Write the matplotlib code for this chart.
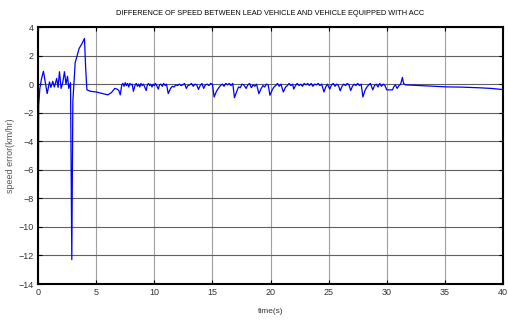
import matplotlib.pyplot as plt
import numpy as np

plt.rcParams['font.family'] = ['Liberation Sans', 'DejaVu Sans']

# time (s) and speed error (km/hr)
t_start = [0.0, 0.05, 0.15, 0.3, 0.46, 0.62, 0.78, 0.98, 1.1, 1.26, 1.4, 1.6, 1.72,
           1.84, 1.98, 2.12, 2.27, 2.4, 2.53, 2.64, 2.79, 2.9, 2.99, 3.19, 3.36,
           3.53, 3.75, 3.99, 4.1, 4.2, 4.5, 5.0, 5.5, 6.0, 6.3, 6.6, 6.8, 6.95,
           7.07]
e_start = [-14.0, -1.5, -0.3, 0.4, 0.9, 0.1, -0.66, 0.16, -0.23, 0.2, -0.2, 0.4,
           -0.23, 0.87, -0.3, 0.1, 0.87, 0.0, 0.55, -0.3, 0.1, -12.3, -1.2, 1.5,
           2.0, 2.5, 2.8, 3.2, 1.0, -0.4, -0.5, -0.55, -0.65, -0.75, -0.6, -0.3,
           -0.35, -0.45, -0.75]

t_mid = [7.2, 7.3, 7.4, 7.5, 7.6, 7.7, 7.8, 7.9, 8.0, 8.1, 8.2, 8.35, 8.45, 8.55,
         8.65, 8.75, 8.85, 8.95, 9.05, 9.15, 9.3, 9.4, 9.5, 9.6, 9.7, 9.8, 9.9,
         10.0, 10.1, 10.2, 10.35, 10.45, 10.55, 10.7, 10.8, 10.95, 11.05, 11.2,
         11.4, 11.55, 11.7, 11.85, 12.0, 12.15, 12.3, 12.45, 12.6, 12.75, 12.9,
         13.05, 13.2, 13.35, 13.5, 13.65, 13.8, 13.95, 14.1, 14.25, 14.4, 14.55,
         14.7, 14.85, 15.0, 15.15, 15.35, 15.55, 15.7, 15.85, 16.0, 16.15, 16.3,
         16.45, 16.6, 16.75, 16.9, 17.1, 17.25, 17.4, 17.55, 17.7, 17.9, 18.05,
         18.2, 18.35, 18.5, 18.65, 18.8, 19.0, 19.2, 19.35, 19.5, 19.65, 19.8,
         19.95, 20.15, 20.3, 20.45, 20.6, 20.75, 20.9, 21.1, 21.3, 21.45, 21.6,
         21.75, 21.9, 22.0, 22.15, 22.3, 22.45, 22.6, 22.75, 22.9, 23.05, 23.2,
         23.35, 23.5, 23.65, 23.8, 23.95, 24.1, 24.25, 24.4, 24.6, 24.75, 24.9,
         25.1, 25.25, 25.4, 25.55, 25.7, 25.85, 26.0, 26.15, 26.3, 26.45, 26.6,
         26.75, 26.9, 27.05, 27.2, 27.35, 27.5, 27.65, 27.8, 27.95, 28.15, 28.3,
         28.45, 28.6, 28.8, 28.95, 29.1, 29.25, 29.4, 29.55, 29.7, 29.85, 30.0,
         30.5, 30.6, 30.75, 30.9, 31.05, 31.2, 31.35, 31.45, 31.6]
e_mid = [-0.05, 0.05, -0.15, 0.1, -0.1, 0.05, -0.2, 0.05, -0.05, 0.0, -0.5, -0.05,
         0.05, -0.15, 0.0, -0.2, 0.05, -0.1, 0.0, -0.15, -0.45, -0.05, 0.05, -0.1,
         0.0, -0.2, 0.0, -0.1, 0.05, -0.1, -0.35, -0.05, 0.0, -0.15, 0.05, -0.1,
         0.0, -0.66, -0.3, -0.15, -0.2, -0.05, -0.1, 0.0, -0.1, -0.05, 0.05, -0.3,
         -0.1, -0.05, 0.05, -0.15, 0.0, -0.05, -0.37, -0.1, 0.05, -0.3, -0.05,
         0.0, -0.1, 0.05, 0.0, -0.9, -0.5, -0.25, -0.1, 0.0, -0.15, 0.05, -0.05,
         0.05, -0.1, 0.05, -0.95, -0.5, -0.2, -0.25, 0.0, -0.05, -0.3, -0.05,
         0.05, -0.25, -0.05, -0.15, 0.0, -0.67, -0.3, -0.1, -0.2, 0.0, -0.05,
         -0.78, -0.4, -0.2, -0.1, 0.05, -0.15, 0.0, -0.55, -0.2, -0.1, 0.05,
         -0.1, 0.0, -0.35, -0.1, 0.05, -0.1, 0.0, -0.15, 0.05, -0.05, 0.05, -0.1,
         0.05, -0.15, 0.0, -0.05, 0.05, -0.1, 0.0, -0.55, -0.2, 0.0, -0.35,
         -0.05, 0.05, -0.15, 0.0, -0.1, -0.47, -0.15, 0.0, -0.1, 0.05, -0.05,
         -0.45, -0.15, 0.0, -0.1, 0.05, -0.1, 0.0, -0.9, -0.4, -0.2, -0.05, 0.05,
         -0.4, -0.1, 0.0, -0.2, 0.05, -0.15, 0.0, -0.1, -0.4, -0.4, -0.2, -0.05,
         -0.3, -0.1, 0.0, 0.47, 0.05, -0.05]

t_end = [32.1, 33.0, 34.0, 35.1, 36.5, 38.1, 39.0, 40.0]
e_end = [-0.07, -0.1, -0.15, -0.19, -0.21, -0.26, -0.3, -0.38]

t = np.array(t_start + t_mid + t_end)
err = np.array(e_start + e_mid + e_end)

fig = plt.figure(figsize=(5.08, 3.2), dpi=100)
ax = fig.add_axes([0.075, 0.1125, 0.915, 0.803])

ax.plot(t, err, color='#0000ff', linewidth=0.9)

ax.set_xlim(0, 40)
ax.set_ylim(-14, 4)
ax.set_xticks(np.arange(0, 41, 5))
ax.set_yticks(np.arange(-14, 5, 2))
ax.grid(True, axis='y', color='#606060', linewidth=0.8)
ax.grid(True, axis='x', color='#a0a0a0', linewidth=0.8)

ax.tick_params(direction='in', length=3, width=0.8, top=True, right=True,
               labelsize=6.5, pad=3, labelcolor='#333333')
for s in ax.spines.values():
    s.set_linewidth(1.5)

ax.set_title('DIFFERENCE OF SPEED BETWEEN LEAD VEHICLE AND VEHICLE EQUIPPED WITH ACC',
             fontsize=5.3, pad=9)
ax.set_xlabel('time(s)', fontsize=6, labelpad=8, color='#333333')
ax.set_ylabel('speed error(km/hr)', fontsize=6.5, labelpad=3, color='#555555')

fig.savefig('out.png', dpi=100)
